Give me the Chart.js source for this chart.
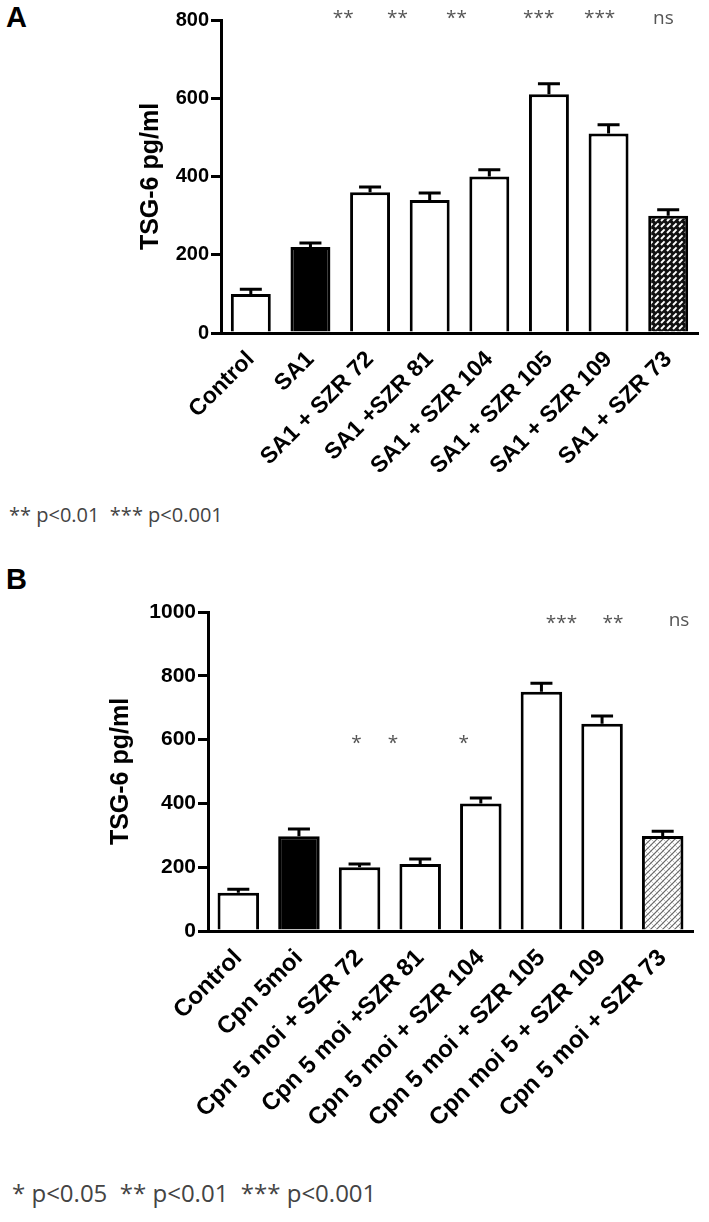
<!DOCTYPE html>
<html>
<head>
<meta charset="utf-8">
<script src="https://cdn.jsdelivr.net/npm/chart.js@4"></script>
<style>
  body { margin: 0; background: #fff; width: 709px; height: 1222px; position: relative; overflow: hidden; }
  .panel { position: absolute; left: 0; }
  .letter { position: absolute; left: 6px; font: bold 29px "Liberation Sans", Arial, sans-serif; color: #000; }
  .note { position: absolute; font-family: "Open Sans", sans-serif; color: #444; white-space: pre; }
</style>
</head>
<body>
<div class="letter" style="top:1px">A</div>
<div class="panel" style="top:0"><canvas id="chartA" width="709" height="500"></canvas></div>
<div class="note" style="left:9px; top:501px; font-size:20px">** p&lt;0.01  *** p&lt;0.001</div>

<div class="letter" style="top:563px">B</div>
<div class="panel" style="top:560px"><canvas id="chartB" width="709" height="600"></canvas></div>
<div class="note" style="left:12px; top:1176px; font-size:24px">* p&lt;0.05  ** p&lt;0.01  *** p&lt;0.001</div>

<script>
// panel A data
const catsA = ['Control', 'SA1', 'SA1 + SZR 72', 'SA1 +SZR 81', 'SA1 + SZR 104', 'SA1 + SZR 105', 'SA1 + SZR 109', 'SA1 + SZR 73'];
const valsA = [100, 220, 360, 340, 400, 610, 510, 300];
const errA = [12, 10, 13, 18, 17, 27, 22, 15];
const sigA = ['', '', '**', '**', '**', '***', '***', 'ns'];
const sigLevelA = [0, 0, 818, 818, 818, 818, 818, 803];
const ticksA = [0, 200, 400, 600, 800];

// panel B data
const catsB = ['Control', 'Cpn 5moi', 'Cpn 5 moi + SZR 72', 'Cpn 5 moi +SZR 81', 'Cpn 5 moi + SZR 104', 'Cpn 5 moi + SZR 105', 'Cpn moi 5 + SZR 109', 'Cpn 5 moi + SZR 73'];
const valsB = [120, 297, 200, 210, 400, 750, 650, 298];
const errB = [11, 23, 10, 16, 17, 27, 24, 15];
const sigB = ['', '', '*', '*', '*', '***', '**', 'ns'];
const sigLevelB = [0, 0, 605, 605, 605, 981, 981, 972];
const ticksB = [0, 200, 400, 600, 800, 1000];

const yTitle = 'TSG-6 pg/ml';
const AX_FONT = '"Liberation Sans", Arial, sans-serif';

// label nudges, in category widths (annotations sit off-centre in the original)
const sigShiftA = [0, 0, -0.45, -0.54, -0.55, -0.17, -0.15, -0.08];
const sigShiftB = [0, 0, -0.05, -0.45, -0.28, 0.33, 0.18, 0.27];

function hatch(dark) {
  const c = document.createElement('canvas');
  c.width = 6; c.height = 6;
  const g = c.getContext('2d');
  if (dark) {
    g.fillStyle = '#111';
    g.fillRect(0, 0, 6, 6);
    g.strokeStyle = '#fff';
    g.lineWidth = 2;
    g.beginPath();
    g.moveTo(1, 5); g.lineTo(4.6, 1.4);
    g.stroke();
  } else {
    g.fillStyle = '#fff';
    g.fillRect(0, 0, 6, 6);
    g.strokeStyle = '#666';
    g.lineWidth = 1.2;
    g.beginPath();
    g.moveTo(-1, 7); g.lineTo(7, -1);
    g.moveTo(-1, 1); g.lineTo(1, -1);
    g.moveTo(5, 7); g.lineTo(7, 5);
    g.stroke();
    g.strokeStyle = '#aaa';
    g.lineWidth = 0.7;
    g.beginPath();
    g.moveTo(0, 0); g.lineTo(6, 6);
    g.stroke();
  }
  return g.createPattern(c, 'repeat');
}

const errorBars = {
  id: 'errorBars',
  afterDatasetsDraw(chart, args, opts) {
    const ctx = chart.ctx;
    const y = chart.scales.y;
    const x = chart.scales.x;
    const meta = chart.getDatasetMeta(0);
    const vals = chart.data.datasets[0].data;
    ctx.save();
    ctx.strokeStyle = '#000';
    ctx.lineWidth = 3;
    meta.data.forEach((bar, i) => {
      const top = y.getPixelForValue(vals[i] + opts.err[i]);
      ctx.beginPath();
      ctx.moveTo(bar.x, bar.y);
      ctx.lineTo(bar.x, top);
      ctx.moveTo(bar.x - 11, top);
      ctx.lineTo(bar.x + 11, top);
      ctx.stroke();
    });
    // significance marks
    const step = x.getPixelForValue(1) - x.getPixelForValue(0);
    ctx.fillStyle = '#555';
    ctx.font = '19px "Open Sans", sans-serif';
    ctx.textAlign = 'center';
    ctx.textBaseline = 'alphabetic';
    opts.sig.forEach((s, i) => {
      if (!s) return;
      const cx = x.getPixelForValue(i) + opts.shift[i] * step;
      const cy = y.getPixelForValue(opts.level[i]);
      const base = s === 'ns' ? cy + 5 : cy + 11;
      ctx.fillText(s, cx, base);
    });
    ctx.restore();
  }
};

function drawPanel(id, cats, vals, errs, sig, level, shift, ticks, fills, box) {
  new Chart(document.getElementById(id), {
    type: 'bar',
    data: {
      labels: cats,
      datasets: [{
        data: vals,
        backgroundColor: fills,
        borderColor: '#000',
        borderWidth: 3,
        barPercentage: box.bar,
        categoryPercentage: 1
      }]
    },
    options: {
      responsive: false,
      animation: false,
      layout: { padding: { top: box.top, right: box.right, left: 0, bottom: 0 } },
      plugins: {
        legend: { display: false },
        tooltip: { enabled: false },
        errorBars: { err: errs, sig: sig, level: level, shift: shift }
      },
      scales: {
        x: {
          grid: { display: false },
          border: { color: '#000', width: 3 },
          ticks: {
            color: '#000',
            autoSkip: false,
            minRotation: 45,
            maxRotation: 45,
            padding: 5,
            font: { family: AX_FONT, size: box.lab, weight: 'bold' }
          },
          afterFit: s => { s.height = box.xh; }
        },
        y: {
          min: ticks[0],
          max: ticks[ticks.length - 1],
          afterBuildTicks: s => { s.ticks = ticks.map(v => ({ value: v })); },
          grid: { drawOnChartArea: false, color: '#000', lineWidth: 3, tickLength: 10, tickWidth: 3 },
          border: { color: '#000', width: 3 },
          ticks: {
            color: '#000',
            padding: 2,
            callback: v => String(v),
            font: { family: AX_FONT, size: box.tick, weight: 'bold' }
          },
          title: {
            display: true,
            text: yTitle,
            color: '#000',
            padding: { top: box.titlePad, bottom: 0 },
            font: { family: AX_FONT, size: 25, weight: 'bold' }
          },
          afterFit: s => { s.width = box.yw; }
        }
      }
    },
    plugins: [errorBars]
  });
}

const fillsA = ['#fff', '#000', '#fff', '#fff', '#fff', '#fff', '#fff', hatch(true)];
const fillsB = ['#fff', '#000', '#fff', '#fff', '#fff', '#fff', '#fff', hatch(false)];

drawPanel('chartA', catsA, valsA, errA, sigA, sigLevelA, sigShiftA, ticksA, fillsA,
  { top: 20, right: 11, yw: 221, xh: 167, bar: 0.67, tick: 20, lab: 23, titlePad: 136 });
drawPanel('chartB', catsB, valsB, errB, sigB, sigLevelB, sigShiftB, ticksB, fillsB,
  { top: 52, right: 16, yw: 208, xh: 229, bar: 0.685, tick: 21, lab: 24, titlePad: 106 });
</script>
</body>
</html>
